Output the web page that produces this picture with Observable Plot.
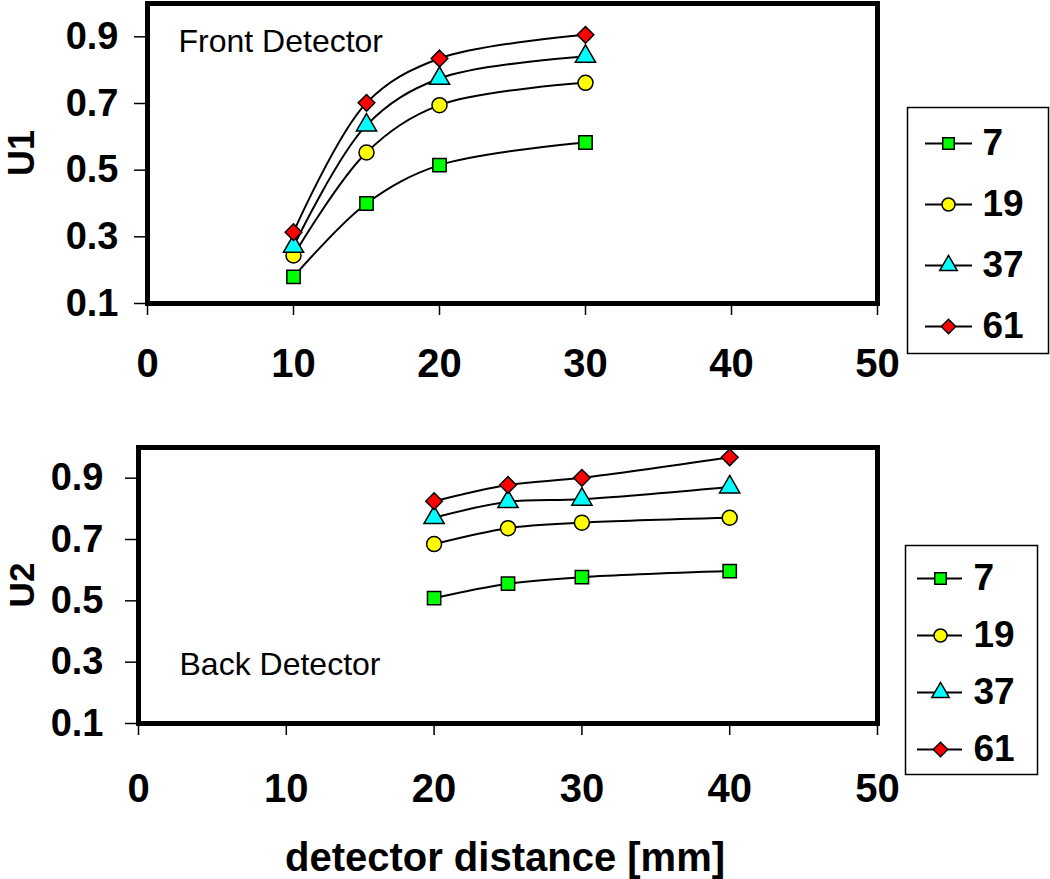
<!DOCTYPE html>
<html>
<head>
<meta charset="utf-8">
<script src="https://cdn.jsdelivr.net/npm/d3@7"></script>
<script src="https://cdn.jsdelivr.net/npm/@observablehq/plot@0.6"></script>
<style>
  html, body { margin: 0; padding: 0; background: #fff; }
  #root { position: relative; width: 1050px; height: 879px; overflow: hidden; font-family: "Liberation Sans", Arial, sans-serif; }
  .abs { position: absolute; }
  .lbl { position: absolute; font-weight: bold; color: #000; white-space: nowrap; }
</style>
</head>
<body>
<div id="root"></div>
<script>
// ---- data ----
const seriesNames = ["7", "19", "37", "61"];
const seriesColors = ["#00ff00", "#ffff00", "#00ffff", "#ff0000"];
const seriesSymbols = ["square", "circle", "triangle", "diamond2"];

const frontX = [10, 15, 20, 30];
const front7 = [0.180, 0.400, 0.515, 0.583];
const front19 = [0.244, 0.553, 0.695, 0.762];
const front37 = [0.271, 0.635, 0.775, 0.841];
const front61 = [0.314, 0.702, 0.835, 0.906];

const backX = [20, 25, 30, 40];
const back7 = [0.509, 0.556, 0.577, 0.597];
const back19 = [0.685, 0.737, 0.755, 0.771];
const back37 = [0.771, 0.823, 0.831, 0.871];
const back61 = [0.825, 0.878, 0.901, 0.968];

const xTicks = [0, 10, 20, 30, 40, 50];
const yTicks = [0.1, 0.3, 0.5, 0.7, 0.9];

const xLabel = "detector distance [mm]";

function toRows(xs, arrays) {
  const rows = [];
  arrays.forEach((vals, i) => vals.forEach((v, j) => rows.push({series: seriesNames[i], x: xs[j], y: v})));
  return rows;
}
const frontRows = toRows(frontX, [front7, front19, front37, front61]);
const backRows = toRows(backX, [back7, back19, back37, back61]);

const root = document.getElementById("root");

function panel(rows, opts) {
  const chart = Plot.plot({
    width: 900,
    height: 400,
    marginLeft: opts.marginLeft,
    marginRight: 23,
    marginTop: opts.marginTop,
    marginBottom: 400 - opts.frameBottom,
    style: {fontFamily: "'Liberation Sans', Arial, sans-serif", background: "transparent", overflow: "visible"},
    x: {domain: [0, 50]},
    y: {domain: [0.1, 1.0]},
    color: {domain: seriesNames, range: seriesColors},
    symbol: {domain: seriesNames, range: seriesSymbols},
    marks: [
      Plot.axisY({ticks: yTicks, tickSize: 13, tickPadding: opts.yPad, fontSize: 38, fontWeight: "bold", label: null, tickFormat: d3.format(".1f"), strokeWidth: 1.5}),
      Plot.axisX({ticks: xTicks, tickSize: 12, tickPadding: opts.xPad, fontSize: 40, fontWeight: "bold", label: null, strokeWidth: 1.5}),
      Plot.line(rows, {x: "x", y: "y", z: "series", curve: "catmull-rom", stroke: "#000", strokeWidth: 2}),
      Plot.dot(rows, {x: "x", y: "y", symbol: "series", fill: "series", stroke: "#000", strokeWidth: 1.5, r: 7.5}),
      Plot.text([opts.note], {frameAnchor: "top-left", dx: opts.noteDx, dy: opts.noteDy, textAnchor: "start", lineAnchor: "top", fontSize: 32, fontWeight: "normal", fill: "#000"}),
      Plot.frame({stroke: "#000", strokeWidth: 5})
    ]
  });
  chart.classList.add("abs");
  chart.style.left = "0px";
  chart.style.top = opts.top + "px";
  root.appendChild(chart);
}

panel(frontRows, {top: 0, marginLeft: 147, marginTop: 3, frameBottom: 303, yPad: 16, xPad: 33, note: "Front Detector", noteDx: 31, noteDy: 26});
panel(backRows, {top: 420, marginLeft: 138, marginTop: 27, frameBottom: 303, yPad: 22, xPad: 38, note: "Back Detector", noteDx: 41, noteDy: 205});

function legend(opts) {
  const w = opts.width, h = opts.height;
  const legRows = seriesNames.map(s => ({series: s}));
  const chart = Plot.plot({
    width: w,
    height: h,
    marginLeft: 2, marginRight: 2, marginTop: 2, marginBottom: 2,
    style: {fontFamily: "'Liberation Sans', Arial, sans-serif", background: "#fff", overflow: "visible"},
    x: {domain: [0, w], range: [0, w], axis: null},
    y: {type: "point", domain: seriesNames, range: opts.yRange, padding: 0, axis: null},
    color: {domain: seriesNames, range: seriesColors},
    symbol: {domain: seriesNames, range: seriesSymbols},
    marks: [
      Plot.frame({stroke: "#000", strokeWidth: 1.5}),
      Plot.ruleY(legRows, {y: "series", x1: opts.lineX[0], x2: opts.lineX[1], stroke: "#000", strokeWidth: 2}),
      Plot.dot(legRows, {x: opts.markX, y: "series", symbol: "series", fill: "series", stroke: "#000", strokeWidth: 1.5, r: 6.5}),
      Plot.text(legRows, {x: opts.textX, y: "series", text: "series", textAnchor: "start", fontSize: 37, fontWeight: "bold", fill: "#000"})
    ]
  });
  chart.classList.add("abs");
  chart.style.left = opts.left + "px";
  chart.style.top = opts.top + "px";
  root.appendChild(chart);
}

legend({left: 905, top: 105, width: 145, height: 250, yRange: [37, 222], lineX: [20, 67], markX: 43, textX: 77});
legend({left: 903, top: 543, width: 136, height: 233, yRange: [34, 206], lineX: [14, 59], markX: 37, textX: 70});

function addLabel(text, cx, cy, size, rotate) {
  const d = document.createElement("div");
  d.className = "lbl";
  d.textContent = text;
  d.style.fontSize = size + "px";
  d.style.left = cx + "px";
  d.style.top = cy + "px";
  d.style.lineHeight = "1";
  d.style.transform = "translate(-50%, -50%)" + (rotate ? " rotate(-90deg)" : "");
  root.appendChild(d);
}
addLabel("U1", 22, 153, 36, true);
addLabel("U2", 21, 585, 35, true);
addLabel(xLabel, 505, 857, 40, false);
</script>
</body>
</html>
